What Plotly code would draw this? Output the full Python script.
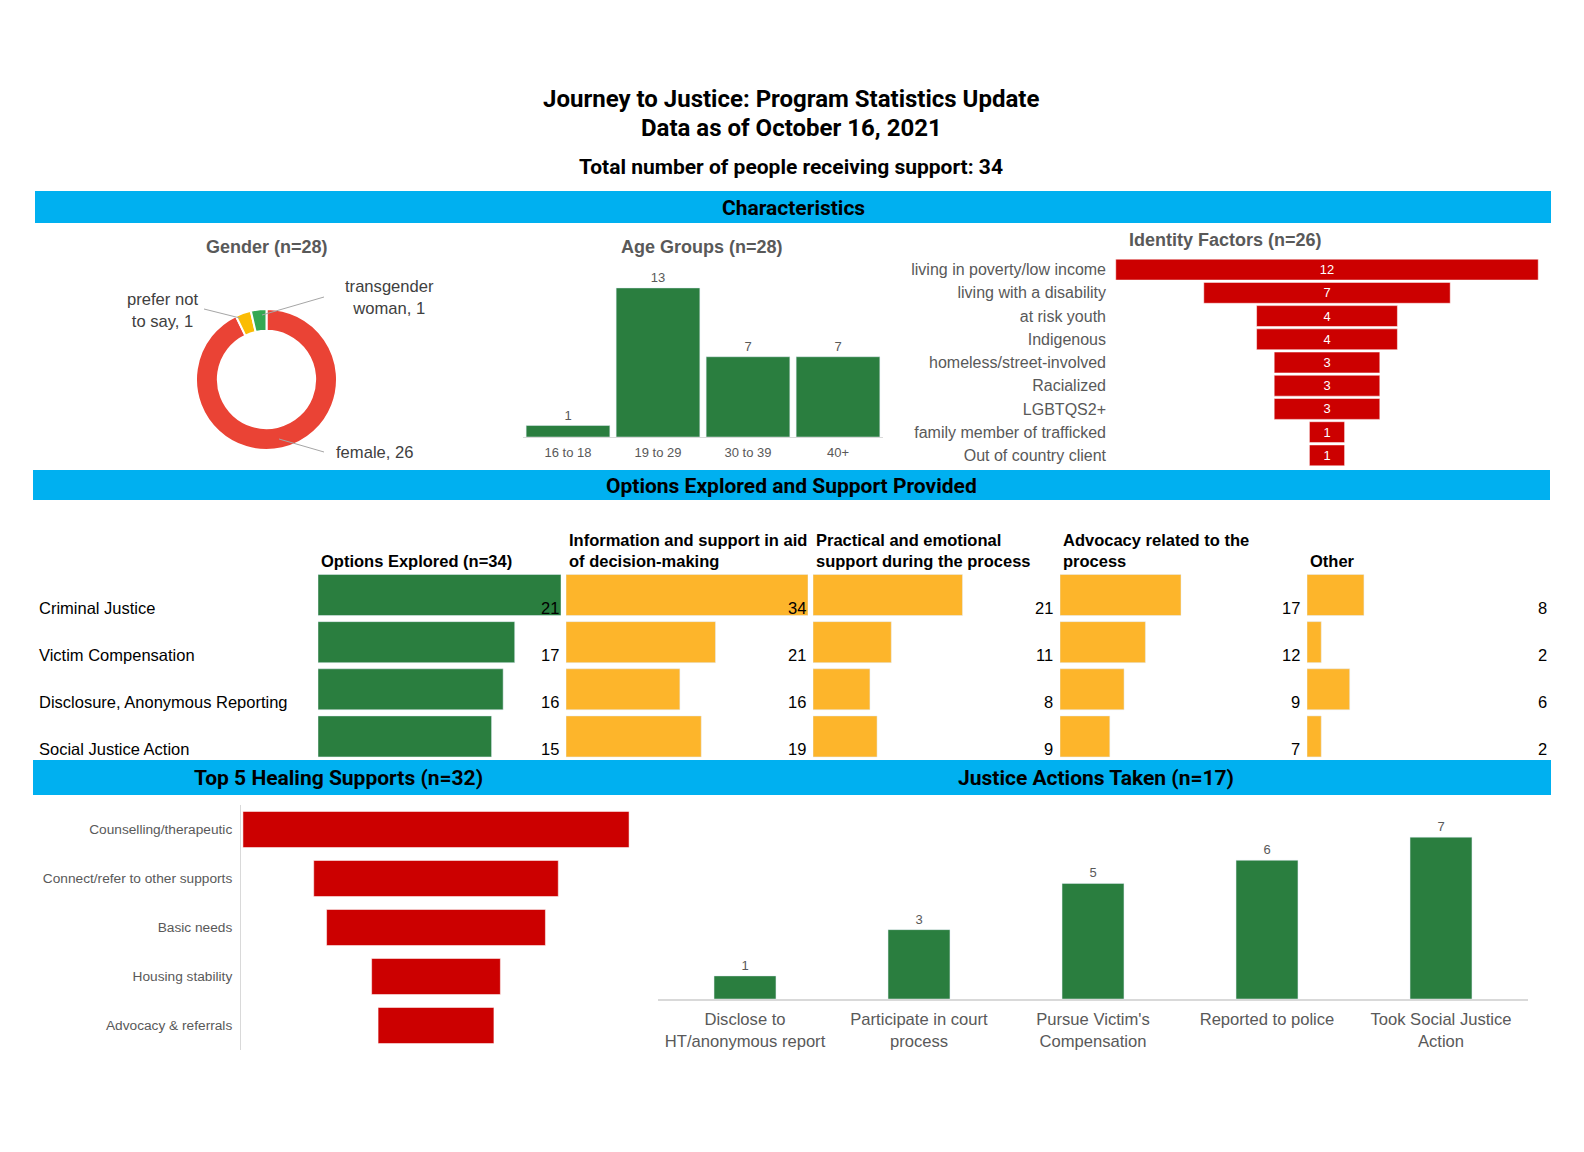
import plotly.graph_objects as go

# page body has an 8px default margin; figure sized to fit exactly inside the window
OFF = 8
W, H = 1584 - 2 * OFF, 1152 - 2 * OFF


def px(x):
    return (x - OFF) / W


def py(y):
    return 1 - (y - OFF) / H


# ---------------- data ----------------
gender_labels = ["female", "prefer not<br>to say", "transgender<br>woman"]
gender_values = [26, 1, 1]

age_groups = ["16 to 18", "19 to 29", "30 to 39", "40+"]
age_counts = [1, 13, 7, 7]

identity_factors = ["living in poverty/low income", "living with a disability", "at risk youth",
                    "Indigenous", "homeless/street-involved", "Racialized", "LGBTQS2+",
                    "family member of trafficked", "Out of country client"]
identity_counts = [12, 7, 4, 4, 3, 3, 3, 1, 1]

option_categories = ["Criminal Justice", "Victim Compensation",
                     "Disclosure, Anonymous Reporting", "Social Justice Action"]
column_headers = ["Options Explored (n=34)",
                  "Information and support in aid<br>of decision-making",
                  "Practical and emotional<br>support during the process",
                  "Advocacy related to the<br>process",
                  "Other"]
options_explored = [21, 17, 16, 15]
info_support = [34, 21, 16, 19]
practical_support = [21, 11, 8, 9]
advocacy_support = [17, 12, 9, 7]
other_support = [8, 2, 6, 2]

healing_supports = ["Counselling/therapeutic", "Connect/refer to other supports", "Basic needs",
                    "Housing stability", "Advocacy & referrals"]
healing_counts = [30, 19, 17, 10, 9]

justice_actions = ["Disclose to<br>HT/anonymous report", "Participate in court<br>process",
                   "Pursue Victim's<br>Compensation", "Reported to police",
                   "Took Social Justice<br>Action"]
justice_counts = [1, 3, 5, 6, 7]

# ---------------- style ----------------
BLUE = "#00B0F0"
GREEN = "#2A7E3F"
ORANGE = "#FDB52B"
RED = "#CC0000"
GRAY = "#595959"
LIGHT = "#D9D9D9"
ARIAL = "Liberation Sans, Arial, sans-serif"
HEAD = "Roboto, Arial, sans-serif"

fig = go.Figure()

# ---------- Gender donut ----------
fig.add_trace(go.Pie(
    labels=gender_labels, values=gender_values, hole=0.69, sort=False,
    direction="clockwise", rotation=0,
    marker=dict(colors=["#EA4335", "#FBBC04", "#34A853"], line=dict(color="white", width=2)),
    textinfo="none", showlegend=False,
    domain=dict(x=[px(196), px(337)], y=[py(450), py(309)]),
))

# ---------- Age groups ----------
fig.add_trace(go.Bar(
    x=age_groups, y=age_counts, xaxis="x", yaxis="y", width=0.93,
    marker=dict(color=GREEN), text=age_counts, textposition="outside",
    textfont=dict(color=GRAY, size=13, family=ARIAL), cliponaxis=False, showlegend=False,
))

# ---------- Identity funnel ----------
fig.add_trace(go.Funnel(
    y=identity_factors, x=identity_counts, orientation="h", xaxis="x2", yaxis="y2",
    width=0.9, marker=dict(color=RED, line=dict(color="rgba(255,255,255,0.5)", width=1)),
    textinfo="value", textposition="inside",
    insidetextfont=dict(color="white", size=13, family=ARIAL),
    connector=dict(visible=False), showlegend=False,
))

# ---------- Options explored / support provided ----------
option_series = [options_explored, info_support, practical_support, advocacy_support, other_support]
option_colors = [GREEN, ORANGE, ORANGE, ORANGE, ORANGE]
col_domains = [(318, 561), (566, 808), (813, 1055), (1060, 1302), (1307, 1549)]
col_max = [21, 34, 34, 34, 34]
for i, (vals, col) in enumerate(zip(option_series, option_colors)):
    fig.add_trace(go.Bar(
        y=option_categories, x=vals, orientation="h", xaxis=f"x{3 + i}", yaxis="y3",
        width=0.87, marker=dict(color=col), showlegend=False,
    ))

# ---------- Healing funnel ----------
fig.add_trace(go.Funnel(
    y=healing_supports, x=healing_counts, orientation="h", xaxis="x8", yaxis="y8",
    width=0.735, marker=dict(color=RED, line=dict(color="rgba(255,255,255,0.5)", width=1)),
    textinfo="none", connector=dict(visible=False), showlegend=False,
))

# ---------- Justice actions ----------
fig.add_trace(go.Bar(
    x=justice_actions, y=justice_counts, xaxis="x9", yaxis="y9", width=0.356,
    marker=dict(color=GREEN), text=justice_counts, textposition="outside",
    textfont=dict(color=GRAY, size=13, family=ARIAL), cliponaxis=False, showlegend=False,
))

hidden = dict(showgrid=False, zeroline=False, showticklabels=False, ticks="", showline=False,
              fixedrange=True)

layout = dict(
    width=W, height=H, margin=dict(l=0, r=0, t=0, b=0, pad=0),
    paper_bgcolor="white", plot_bgcolor="white",
    font=dict(family=ARIAL, color=GRAY),
    showlegend=False,
    # age
    xaxis=dict(domain=[px(523), px(883)], anchor="y", showgrid=False, zeroline=False,
               showline=True, linecolor=LIGHT, linewidth=1, ticks="", ticklabelstandoff=3,
               tickfont=dict(size=13, color=GRAY)),
    yaxis=dict(domain=[py(437), py(273)], anchor="x", range=[0, 14.3], **hidden),
    # identity
    xaxis2=dict(domain=[px(1114), px(1540)], anchor="y2", range=[-6.05, 6.05], **hidden),
    yaxis2=dict(domain=[py(467), py(258)], anchor="x2", autorange="reversed",
                showgrid=False, zeroline=False, ticks="", showline=False, ticklabelstandoff=7,
                tickfont=dict(size=16, color=GRAY)),
    # options shared y
    yaxis3=dict(domain=[py(760), py(571)], anchor="x3", autorange="reversed", **hidden),
    # healing
    xaxis8=dict(domain=[px(241), px(631)], anchor="y8", range=[-15.15, 15.15], **hidden),
    yaxis8=dict(domain=[py(1050), py(805)], anchor="x8", autorange="reversed",
                showgrid=False, zeroline=False, ticks="", showline=True, linecolor=LIGHT,
                linewidth=1, ticklabelstandoff=5, tickfont=dict(size=13.7, color=GRAY)),
    # justice
    xaxis9=dict(domain=[px(658), px(1528)], anchor="y9", showgrid=False, zeroline=False,
                showline=True, linecolor=LIGHT, linewidth=2, ticks="", ticklabelstandoff=4,
                tickfont=dict(size=16.6, color=GRAY)),
    yaxis9=dict(domain=[py(999), py(814)], anchor="x9", range=[0, 8], **hidden),
)
for i, ((a, b), m) in enumerate(zip(col_domains, col_max)):
    layout[f"xaxis{3 + i}"] = dict(domain=[px(a), px(b)], anchor="y3", range=[0, m], **hidden)
fig.update_layout(**layout)

# ---------- shapes: blue bands + donut leader lines ----------
bands = [(35, 1551, 191, 223), (33, 1550, 470, 500), (33, 1551, 760, 795)]
for x0, x1, y0, y1 in bands:
    fig.add_shape(type="rect", xref="paper", yref="paper", x0=px(x0), x1=px(x1),
                  y0=py(y1), y1=py(y0), fillcolor=BLUE, line=dict(width=0), layer="below")
leaders = [(204, 309, 240, 318), (324, 297, 262, 315), (324, 452, 279, 439)]
for x0, y0, x1, y1 in leaders:
    fig.add_shape(type="line", xref="paper", yref="paper", x0=px(x0), y0=py(y0),
                  x1=px(x1), y1=py(y1), line=dict(color="#A6A6A6", width=1))

ann = []


def text(x, y, s, size, color="black", family=HEAD, xanchor="center", yanchor="middle",
         align="center", xref="paper", yref="paper", **kw):
    ann.append(dict(x=x, y=y, text=s, showarrow=False, xref=xref, yref=yref,
                    xanchor=xanchor, yanchor=yanchor, align=align,
                    font=dict(size=size, color=color, family=family), **kw))


# titles
text(px(791), py(99), "<b>Journey to Justice: Program Statistics Update</b>", 24)
text(px(791), py(128), "<b>Data as of October 16, 2021</b>", 24)
text(px(791), py(167), "<b>Total number of people receiving support: 34</b>", 21)
# band texts
text(px(793), py(208), "<b>Characteristics</b>", 21)
text(px(791), py(486), "<b>Options Explored and Support Provided</b>", 21)
text(px(338), py(778), "<b>Top 5 Healing Supports (n=32)</b>", 21)
text(px(1096), py(778), "<b>Justice Actions Taken (n=17)</b>", 21)
# chart titles
text(px(267), py(247), "<b>Gender (n=28)</b>", 18, GRAY, ARIAL)
text(px(702), py(247), "<b>Age Groups (n=28)</b>", 18, GRAY, ARIAL)
text(px(1225), py(240), "<b>Identity Factors (n=26)</b>", 18, GRAY, ARIAL)

# donut labels
text(px(334), py(452), f"{gender_labels[0]}, {gender_values[0]}", 16.6, "#404040", ARIAL,
     xanchor="left")
text(px(200), py(310), f"{gender_labels[1]}, {gender_values[1]}", 16.6, "#404040", ARIAL,
     xanchor="right", align="center")
text(px(389), py(297), f"{gender_labels[2]}, {gender_values[2]}", 16.6, "#404040", ARIAL)

# options headers
for (a, b), h in zip(col_domains, column_headers):
    text(px(a + 1), py(572), f"<b>{h}</b>", 16.5, "black", ARIAL, xanchor="left",
         yanchor="bottom", align="left")
# option category labels
for c in option_categories:
    text(px(37), c, c, 16.5, "black", ARIAL, xanchor="left", yref="y3", yshift=-13)
# option values at right of each column
for i, (vals, m) in enumerate(zip(option_series, col_max)):
    for c, v in zip(option_categories, vals):
        text(m, c, str(v), 16.5, "black", ARIAL, xanchor="right", xref=f"x{3 + i}",
             yref="y3", yshift=-13)

fig.update_layout(annotations=ann)

fig.write_html("out.html")
